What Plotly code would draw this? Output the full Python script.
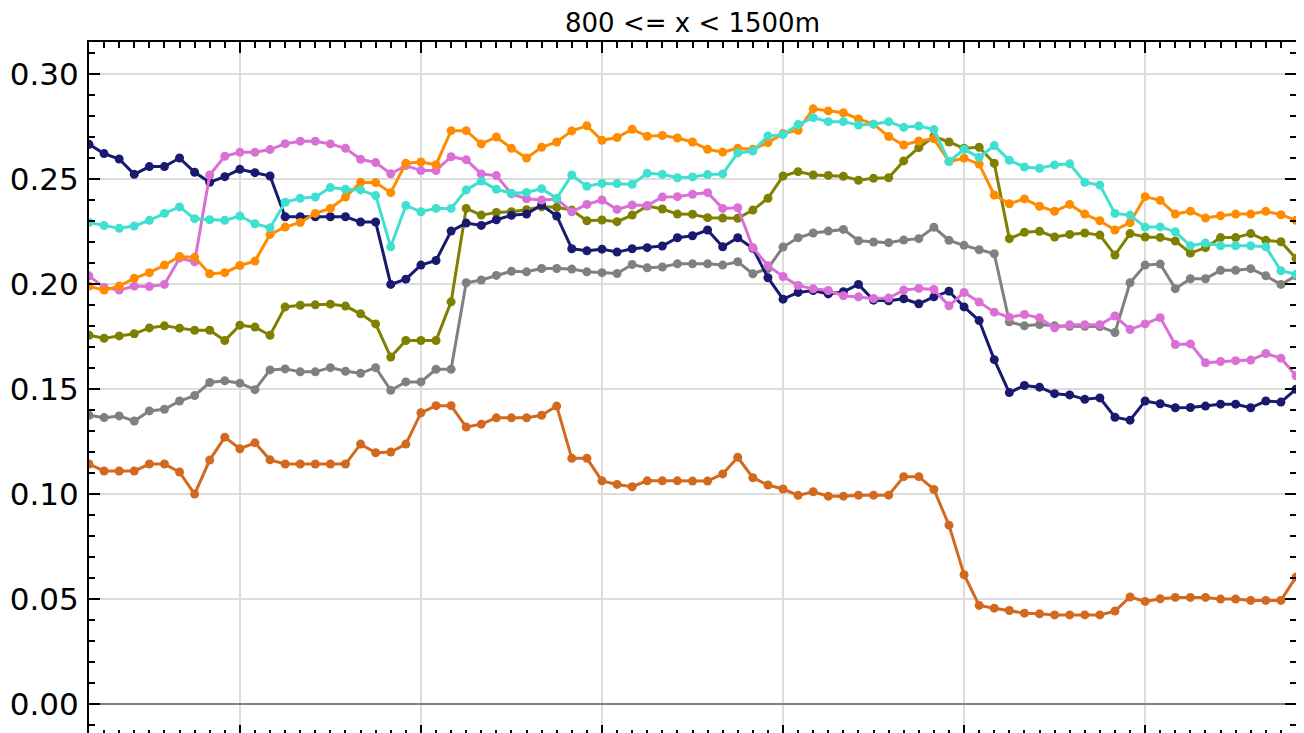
import plotly.graph_objects as go

# monthly points, one per month across the window
months = list(range(81))

navy = [0.2665,0.2621,0.2595,0.2522,0.2559,0.2559,0.2600,0.2532,0.2484,0.2511,0.2546,0.2530,0.2514,0.2320,0.2320,0.2320,0.2320,0.2320,0.2295,0.2295,
        0.1998,0.2023,0.2090,0.2112,0.2252,0.2290,0.2279,0.2306,0.2327,0.2333,0.2376,0.2324,0.2168,0.2158,0.2166,0.2152,0.2168,0.2173,0.2181,0.2220,
        0.2230,0.2257,0.2177,0.2220,0.2170,0.2030,0.1928,0.1960,0.1969,0.1953,0.1963,0.1998,0.1923,0.1920,0.1930,0.1906,0.1939,0.1966,0.1891,0.1826,
        0.1640,0.1483,0.1517,0.1509,0.1478,0.1472,0.1451,0.1458,0.1366,0.1352,0.1443,0.1430,0.1411,0.1412,0.1419,0.1428,0.1428,0.1411,0.1443,0.1438,0.1499]
orange = [0.1990,0.1971,0.1990,0.2027,0.2054,0.2090,0.2131,0.2127,0.2049,0.2054,0.2088,0.2109,0.2236,0.2271,0.2293,0.2336,0.2360,0.2414,0.2484,0.2483,
          0.2435,0.2575,0.2581,0.2568,0.2730,0.2730,0.2667,0.2700,0.2646,0.2600,0.2651,0.2676,0.2729,0.2753,0.2684,0.2697,0.2737,0.2703,0.2707,0.2695,
          0.2676,0.2641,0.2628,0.2646,0.2641,0.2673,0.2716,0.2732,0.2834,0.2824,0.2815,0.2786,0.2761,0.2702,0.2662,0.2681,0.2691,0.2583,0.2599,0.2571,
          0.2424,0.2382,0.2405,0.2370,0.2346,0.2379,0.2333,0.2301,0.2257,0.2292,0.2416,0.2398,0.2333,0.2347,0.2314,0.2325,0.2333,0.2333,0.2346,0.2330,0.2303]
orchid = [0.2039,0.1984,0.1971,0.1990,0.1988,0.1998,0.2123,0.2106,0.2519,0.2608,0.2627,0.2627,0.2640,0.2668,0.2680,0.2680,0.2667,0.2646,0.2594,0.2578,
          0.2525,0.2564,0.2540,0.2540,0.2606,0.2592,0.2524,0.2516,0.2429,0.2406,0.2400,0.2405,0.2344,0.2379,0.2400,0.2355,0.2376,0.2374,0.2414,0.2416,
          0.2427,0.2435,0.2360,0.2363,0.2173,0.2087,0.2036,0.1993,0.1977,0.1969,0.1944,0.1939,0.1931,0.1933,0.1971,0.1979,0.1974,0.1896,0.1960,0.1914,
          0.1866,0.1842,0.1855,0.1839,0.1791,0.1806,0.1806,0.1806,0.1848,0.1783,0.1810,0.1840,0.1712,0.1715,0.1625,0.1631,0.1635,0.1638,0.1669,0.1647,0.1563]
turquoise = [0.2293,0.2278,0.2265,0.2276,0.2303,0.2336,0.2367,0.2311,0.2306,0.2303,0.2324,0.2287,0.2268,0.2389,0.2408,0.2414,0.2459,0.2451,0.2448,0.2421,
             0.2177,0.2374,0.2344,0.2360,0.2360,0.2448,0.2490,0.2451,0.2432,0.2436,0.2454,0.2408,0.2519,0.2465,0.2479,0.2478,0.2475,0.2527,0.2522,0.2506,
             0.2510,0.2521,0.2524,0.2624,0.2633,0.2705,0.2711,0.2759,0.2792,0.2773,0.2773,0.2757,0.2761,0.2773,0.2746,0.2752,0.2735,0.2583,0.2641,0.2603,
             0.2659,0.2589,0.2557,0.2551,0.2567,0.2572,0.2484,0.2471,0.2336,0.2328,0.2271,0.2272,0.2249,0.2182,0.2195,0.2182,0.2182,0.2182,0.2177,0.2063,0.2046]
olive = [0.1756,0.1742,0.1753,0.1763,0.1791,0.1801,0.1790,0.1780,0.1780,0.1731,0.1804,0.1795,0.1756,0.1891,0.1899,0.1901,0.1904,0.1895,0.1858,0.1810,
         0.1652,0.1731,0.1731,0.1731,0.1915,0.2360,0.2328,0.2341,0.2344,0.2354,0.2368,0.2365,0.2352,0.2301,0.2305,0.2297,0.2328,0.2371,0.2357,0.2333,
         0.2332,0.2316,0.2314,0.2313,0.2352,0.2408,0.2514,0.2535,0.2519,0.2517,0.2513,0.2494,0.2503,0.2506,0.2586,0.2649,0.2702,0.2676,0.2646,0.2651,
         0.2575,0.2216,0.2246,0.2251,0.2224,0.2236,0.2243,0.2233,0.2138,0.2240,0.2224,0.2222,0.2205,0.2147,0.2173,0.2221,0.2221,0.2240,0.2208,0.2201,0.2122]
grey = [0.1375,0.1364,0.1372,0.1348,0.1396,0.1404,0.1443,0.1469,0.1531,0.1539,0.1528,0.1497,0.1591,0.1596,0.1582,0.1582,0.1602,0.1585,0.1575,0.1602,
        0.1494,0.1534,0.1534,0.1594,0.1594,0.2006,0.2019,0.2041,0.2061,0.2058,0.2074,0.2074,0.2071,0.2058,0.2054,0.2050,0.2093,0.2077,0.2081,0.2096,
        0.2096,0.2096,0.2090,0.2106,0.2049,0.2074,0.2176,0.2220,0.2243,0.2252,0.2260,0.2206,0.2200,0.2197,0.2209,0.2216,0.2270,0.2208,0.2184,0.2163,
        0.2144,0.1820,0.1801,0.1807,0.1801,0.1799,0.1799,0.1798,0.1769,0.2006,0.2090,0.2095,0.1978,0.2025,0.2025,0.2065,0.2065,0.2073,0.2039,0.1998,0.2039]
chocolate = [0.1143,0.1110,0.1110,0.1110,0.1143,0.1143,0.1105,0.1000,0.1162,0.1271,0.1216,0.1244,0.1163,0.1143,0.1143,0.1143,0.1143,0.1143,0.1238,0.1197,
             0.1200,0.1238,0.1387,0.1421,0.1421,0.1319,0.1333,0.1363,0.1363,0.1363,0.1375,0.1419,0.1170,0.1170,0.1063,0.1046,0.1035,0.1063,0.1063,0.1063,
             0.1062,0.1062,0.1096,0.1175,0.1078,0.1043,0.1024,0.0994,0.1011,0.0990,0.0990,0.0995,0.0995,0.0995,0.1083,0.1083,0.1022,0.0852,0.0616,0.0470,
             0.0457,0.0446,0.0433,0.0430,0.0425,0.0425,0.0425,0.0425,0.0443,0.0510,0.0489,0.0502,0.0508,0.0508,0.0508,0.0500,0.0500,0.0494,0.0494,0.0494,0.0605]

series = [
    ("chocolate", chocolate, "#D2691E"),
    ("grey", grey, "#808080"),
    ("olive", olive, "#808000"),
    ("navy", navy, "#191970"),
    ("orchid", orchid, "#DA70D6"),
    ("orange", orange, "#FF8C00"),
    ("turquoise", turquoise, "#40E0D0"),
]

fig = go.Figure()
for name, vals, col in series:
    fig.add_trace(go.Scatter(x=months, y=vals, mode="lines+markers", name=name,
                             line=dict(color=col, width=3),
                             marker=dict(color=col, size=9)))

# the page body has an 8px margin, so margins are shifted to compensate
fig.update_layout(
    width=1304, height=728,
    margin=dict(l=81, r=16, t=34, b=0),
    paper_bgcolor="white", plot_bgcolor="white",
    showlegend=False,
    font=dict(family="DejaVu Sans", color="black"),
    title=dict(text="800 <= x < 1500m", xref="paper", x=0.5, xanchor="center",
               yref="container", y=0.98, yanchor="middle", font=dict(size=26)),
)
fig.update_xaxes(range=[0, 80], tick0=10, dtick=12, showticklabels=False,
                 showgrid=True, gridcolor="#dcdcdc", gridwidth=1.5,
                 showline=True, linecolor="black", linewidth=2, mirror="ticks",
                 ticks="inside", ticklen=11, tickwidth=1.5, tickcolor="black",
                 zeroline=False,
                 minor=dict(dtick=1, ticks="inside", ticklen=6, tickwidth=1.5,
                            tickcolor="black", showgrid=False))
fig.update_yaxes(range=[-0.01516, 0.31521], tickvals=[0, 0.05, 0.10, 0.15, 0.20, 0.25, 0.30],
                 tickformat=".2f", tickfont=dict(family="DejaVu Sans", size=31),
                 showgrid=True, gridcolor="#dcdcdc", gridwidth=1.5,
                 showline=True, linecolor="black", linewidth=2, mirror="ticks",
                 ticks="inside", ticklen=11, tickwidth=1.5, tickcolor="black",
                 ticklabelstandoff=2,
                 zeroline=True, zerolinecolor="#808080", zerolinewidth=1.5,
                 minor=dict(dtick=0.01, tick0=0, ticks="inside", ticklen=6, tickwidth=1.5,
                            tickcolor="black", showgrid=False))

fig.write_html("out.html")
